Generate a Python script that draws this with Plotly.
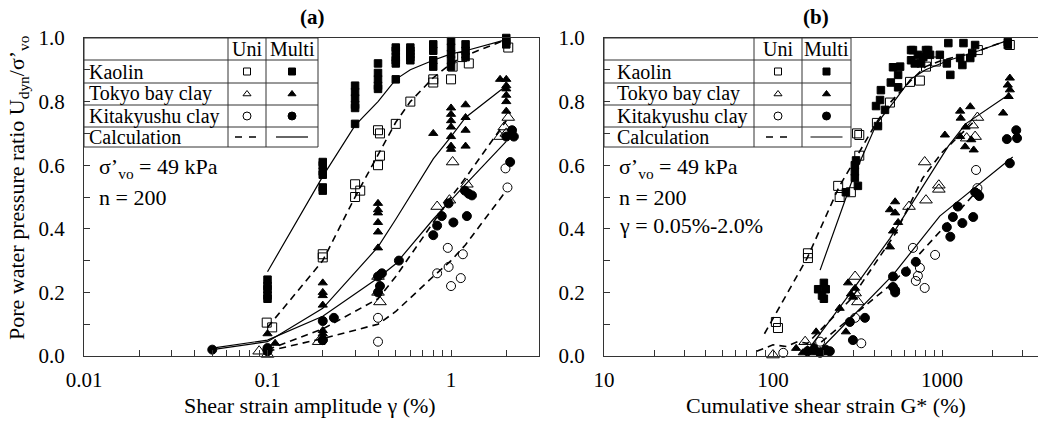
import math
import plotly.graph_objects as go

W, H = 1038, 421
FONT = "'Liberation Serif', 'Times New Roman', serif"
INK = "black"
AXIS = "#333333"

# ---------------- (a) pore pressure ratio vs shear strain amplitude ----------------
ka_multi_a_x = [0.1, 0.1, 0.1, 0.1, 0.1, 0.2, 0.2, 0.2, 0.2, 0.2, 0.2, 0.3, 0.3, 0.3, 0.3, 0.3, 0.3,
                0.4, 0.4, 0.4, 0.4, 0.4, 0.5, 0.5, 0.5, 0.5, 0.5, 0.5, 0.6, 0.6, 0.6, 0.6, 0.6,
                0.8, 0.8, 0.8, 0.8, 1.0, 1.0, 1.0, 1.0, 1.0, 1.2, 1.2, 1.2, 2.0, 2.0, 2.0]
ka_multi_a_y = [0.24, 0.22, 0.21, 0.19, 0.18, 0.61, 0.60, 0.58, 0.57, 0.53, 0.52, 0.85, 0.83, 0.81, 0.79, 0.78, 0.73,
                0.92, 0.89, 0.87, 0.85, 0.84, 0.97, 0.96, 0.94, 0.93, 0.92, 0.87, 0.97, 0.96, 0.95, 0.94, 0.93,
                0.98, 0.96, 0.93, 0.91, 0.99, 0.97, 0.95, 0.93, 0.91, 0.98, 0.96, 0.94, 1.0, 0.99, 0.98]
ka_uni_a_x = [0.099, 0.106, 0.2, 0.2, 0.3, 0.3, 0.32, 0.4, 0.41, 0.41, 0.4, 0.5, 0.6, 0.8, 0.8,
              1.0, 1.02, 1.15, 1.25, 2.05]
ka_uni_a_y = [0.105, 0.09, 0.32, 0.31, 0.54, 0.50, 0.52, 0.71, 0.70, 0.63, 0.60, 0.73, 0.80, 0.87, 0.86,
              0.87, 0.91, 0.94, 0.92, 0.97]

tk_multi_a_x = [0.1, 0.11, 0.2, 0.2, 0.2, 0.2, 0.2, 0.2, 0.4, 0.4, 0.4, 0.4, 0.4, 0.4, 0.8,
                1.0, 1.0, 1.0, 1.0, 1.0, 1.0, 1.0, 1.2, 1.2, 1.2, 1.2,
                2.0, 2.0, 2.0, 2.0, 2.0, 2.0, 1.85]
tk_multi_a_y = [0.07, 0.04, 0.23, 0.20, 0.19, 0.16, 0.08, 0.07, 0.48, 0.46, 0.45, 0.42, 0.39, 0.34, 0.70,
                0.78, 0.76, 0.74, 0.72, 0.69, 0.66, 0.65, 0.79, 0.75, 0.71, 0.66,
                0.87, 0.85, 0.84, 0.82, 0.80, 0.77, 0.87]
tk_uni_a_x = [0.09, 0.1, 0.19, 0.4, 0.4, 0.41, 0.84, 0.98, 1.02, 1.22, 1.85, 1.95, 2.05, 2.0]
tk_uni_a_y = [0.015, 0.005, 0.045, 0.25, 0.20, 0.17, 0.47, 0.49, 0.61, 0.54, 0.69, 0.72, 0.75, 0.70]

kt_multi_a_x = [0.05, 0.1, 0.1, 0.2, 0.23, 0.2, 0.4, 0.42, 0.41, 0.4, 0.52,
                0.8, 0.84, 0.89, 0.97, 1.03, 1.22, 1.19, 1.25, 1.3, 2.15, 2.0, 2.2, 2.1]
kt_multi_a_y = [0.02, 0.015, 0.025, 0.11, 0.12, 0.05, 0.25, 0.26, 0.22, 0.20, 0.30,
                0.38, 0.41, 0.44, 0.48, 0.42, 0.44, 0.52, 0.51, 0.505, 0.71, 0.69, 0.69, 0.61]
kt_uni_a_x = [0.1, 0.2, 0.4, 0.4, 0.84, 0.96, 0.97, 1.0, 1.16, 1.13, 1.98, 2.03]
kt_uni_a_y = [0.02, 0.05, 0.12, 0.045, 0.26, 0.34, 0.28, 0.22, 0.32, 0.245, 0.59, 0.53]

# calculated curves, panel (a)
calc_ka_multi_a_x = [0.1, 0.2, 0.3, 0.4, 0.5, 0.6, 0.8, 1.0, 1.2, 2.0]
calc_ka_multi_a_y = [0.265, 0.565, 0.725, 0.80, 0.87, 0.90, 0.93, 0.95, 0.96, 0.995]
calc_ka_uni_a_x = [0.1, 0.2, 0.3, 0.4, 0.5, 0.6, 0.8, 1.0, 1.2, 2.0]
calc_ka_uni_a_y = [0.09, 0.30, 0.50, 0.63, 0.735, 0.80, 0.875, 0.92, 0.945, 0.995]
calc_tk_multi_a_x = [0.05, 0.1, 0.2, 0.4, 0.5, 0.8, 1.0, 1.2, 2.0]
calc_tk_multi_a_y = [0.02, 0.045, 0.15, 0.343, 0.43, 0.62, 0.69, 0.75, 0.85]
calc_tk_uni_a_x = [0.1, 0.2, 0.4, 0.5, 0.8, 1.0, 1.2, 2.0]
calc_tk_uni_a_y = [0.02, 0.085, 0.18, 0.25, 0.42, 0.50, 0.56, 0.74]
calc_kt_multi_a_x = [0.05, 0.1, 0.2, 0.4, 0.5, 0.8, 1.0, 1.2, 2.0]
calc_kt_multi_a_y = [0.025, 0.05, 0.125, 0.245, 0.29, 0.43, 0.49, 0.54, 0.675]
calc_kt_uni_a_x = [0.1, 0.2, 0.4, 0.5, 0.8, 1.0, 1.2, 2.0]
calc_kt_uni_a_y = [0.015, 0.055, 0.10, 0.14, 0.25, 0.30, 0.35, 0.52]

# ---------------- (b) pore pressure ratio vs cumulative shear strain ----------------
ka_multi_b_x = [185, 200, 205, 195, 200, 270, 318, 305, 305, 305, 310,
                418, 407, 430, 435, 460, 498, 550, 565, 550, 656, 656, 720, 752, 804, 850,
                513, 673, 690, 775, 828, 971, 1090, 1068, 1120, 1280, 1340, 1320, 1510, 1570, 1470, 2450, 2450]
ka_multi_b_y = [0.21, 0.23, 0.21, 0.19, 0.18, 0.515, 0.535, 0.56, 0.58, 0.60, 0.615,
                0.723, 0.786, 0.805, 0.836, 0.774, 0.86, 0.884, 0.91, 0.845, 0.93, 0.962, 0.947, 0.92, 0.962, 0.947,
                0.908, 0.962, 0.92, 0.94, 0.962, 0.947, 0.984, 0.92, 0.884, 0.937, 0.984, 0.915, 0.953, 0.978, 0.937, 0.987, 0.978]
ka_uni_b_x = [104, 107, 161, 161, 243, 248, 289, 314, 324, 324, 412, 492, 647, 740, 804, 920, 1630, 2520]
ka_uni_b_y = [0.107, 0.088, 0.323, 0.308, 0.535, 0.50, 0.515, 0.70, 0.695, 0.63, 0.733, 0.797, 0.862, 0.866,
              0.91, 0.926, 0.962, 0.978]

tk_multi_b_x = [137, 180, 150, 160, 170, 175, 190, 200, 205, 270, 248, 278, 289, 306, 298,
                492, 492, 528, 513, 550, 528, 1040, 1280, 1470, 1290, 1380, 1490, 1540, 1280, 1370,
                2520, 2450, 2520, 2480, 2300]
tk_multi_b_y = [0.024, 0.076, 0.01, 0.02, 0.01, 0.03, 0.015, 0.02, 0.01, 0.076, 0.15, 0.23, 0.195, 0.213, 0.185,
                0.343, 0.46, 0.485, 0.393, 0.42, 0.45, 0.695, 0.77, 0.784, 0.748, 0.72, 0.68, 0.648, 0.69, 0.658,
                0.874, 0.852, 0.837, 0.816, 0.764]
tk_uni_b_x = [100, 155, 306, 306, 318, 638, 804, 790, 958, 958, 1400, 1570, 1510, 1620]
tk_uni_b_y = [0.003, 0.045, 0.25, 0.198, 0.17, 0.47, 0.49, 0.61, 0.537, 0.524, 0.685, 0.69, 0.726, 0.75]

kt_multi_b_x = [160, 175, 190, 205, 217, 285, 350, 297, 513, 528, 513, 528, 612, 700,
                1120, 1068, 1160, 1240, 1320, 1530, 1570, 1660, 1620, 2520, 2420, 2750, 2780]
kt_multi_b_y = [0.015, 0.02, 0.01, 0.02, 0.015, 0.107, 0.12, 0.05, 0.25, 0.207, 0.217, 0.20, 0.265, 0.296,
                0.375, 0.405, 0.437, 0.47, 0.418, 0.437, 0.515, 0.503, 0.51, 0.606, 0.682, 0.71, 0.685]
kt_uni_b_x = [115, 190, 306, 333, 673, 740, 720, 700, 790, 910, 1590, 1620]
kt_uni_b_y = [0.01, 0.045, 0.12, 0.04, 0.34, 0.277, 0.252, 0.236, 0.214, 0.318, 0.585, 0.528]

# calculated curves, panel (b)
calc_ka_uni_b_x = [89, 160, 245, 320, 410, 500, 650, 800, 1000, 1650, 2520]
calc_ka_uni_b_y = [0.07, 0.31, 0.53, 0.635, 0.735, 0.80, 0.865, 0.91, 0.93, 0.96, 0.995]
calc_ka_multi_b_x = [190, 300, 410, 520, 650, 800, 1100, 1650, 2520]
calc_ka_multi_b_y = [0.27, 0.565, 0.73, 0.80, 0.87, 0.90, 0.93, 0.96, 0.995]
calc_tk_uni_b_x = [80, 100, 120, 140, 160, 290, 530, 770, 1000, 1600]
calc_tk_uni_b_y = [0.015, 0.035, 0.03, 0.045, 0.04, 0.18, 0.385, 0.56, 0.64, 0.745]
calc_tk_multi_b_x = [167, 289, 492, 1090, 1380, 2450]
calc_tk_multi_b_y = [0.03, 0.2, 0.37, 0.66, 0.73, 0.82]
calc_kt_uni_b_x = [170, 513, 1620]
calc_kt_uni_b_y = [0.02, 0.23, 0.52]
calc_kt_multi_b_x = [198, 513, 970, 2620]
calc_kt_multi_b_y = [0.03, 0.255, 0.44, 0.626]

# table rows and column headings
table_rows = ["Kaolin", "Tokyo bay clay", "Kitakyushu clay", "Calculation"]
table_cols = ["Uni", "Multi"]
x_ticks_a = [0.01, 0.1, 1]
x_ticks_b = [10, 100, 1000]
y_ticks = [0.0, 0.2, 0.4, 0.6, 0.8, 1.0]

# ---------------- geometry (pixels) ----------------
TOP, BOT = 38, 356
A_L, A_R = 84, 538.6
B_L, B_R = 604, W
def fx(p):
    return p / W
def fy(p):
    return 1 - p / H

fig = go.Figure()

def markers(x, y, symbol, size, xa, ya, lw=1.0):
    fig.add_trace(go.Scatter(
        x=x, y=y, mode="markers", xaxis=xa, yaxis=ya, cliponaxis=False,
        marker=dict(symbol=symbol, size=size, color=INK, line=dict(color=INK, width=lw)),
        showlegend=False, hoverinfo="skip"))

def curve(x, y, dashed, xa, ya):
    fig.add_trace(go.Scatter(
        x=x, y=y, mode="lines", xaxis=xa, yaxis=ya, cliponaxis=False,
        line=dict(color=INK, width=1.6 if dashed else 1.2, dash="7px,5px" if dashed else "solid"),
        showlegend=False, hoverinfo="skip"))

for xa, ya, series, calcs in [
    ("x", "y",
     [(ka_uni_a_x, ka_uni_a_y, "square-open", 9), (ka_multi_a_x, ka_multi_a_y, "square", 7.5),
      (tk_uni_a_x, tk_uni_a_y, "triangle-up-open", 11), (tk_multi_a_x, tk_multi_a_y, "triangle-up", 8),
      (kt_uni_a_x, kt_uni_a_y, "circle-open", 9), (kt_multi_a_x, kt_multi_a_y, "circle", 9)],
     [(calc_ka_uni_a_x, calc_ka_uni_a_y, True), (calc_ka_multi_a_x, calc_ka_multi_a_y, False),
      (calc_tk_uni_a_x, calc_tk_uni_a_y, True), (calc_tk_multi_a_x, calc_tk_multi_a_y, False),
      (calc_kt_uni_a_x, calc_kt_uni_a_y, True), (calc_kt_multi_a_x, calc_kt_multi_a_y, False)]),
    ("x2", "y2",
     [(ka_uni_b_x, ka_uni_b_y, "square-open", 9), (ka_multi_b_x, ka_multi_b_y, "square", 7.5),
      (tk_uni_b_x, tk_uni_b_y, "triangle-up-open", 11), (tk_multi_b_x, tk_multi_b_y, "triangle-up", 8),
      (kt_uni_b_x, kt_uni_b_y, "circle-open", 9), (kt_multi_b_x, kt_multi_b_y, "circle", 9)],
     [(calc_ka_uni_b_x, calc_ka_uni_b_y, True), (calc_ka_multi_b_x, calc_ka_multi_b_y, False),
      (calc_tk_uni_b_x, calc_tk_uni_b_y, True), (calc_tk_multi_b_x, calc_tk_multi_b_y, False),
      (calc_kt_uni_b_x, calc_kt_uni_b_y, True), (calc_kt_multi_b_x, calc_kt_multi_b_y, False)]),
]:
    for cx, cy, dashed in calcs:
        curve(cx, cy, dashed, xa, ya)
    for sx, sy, sym, size in series:
        markers(sx, sy, sym, size, xa, ya)

# ---------------- symbol tables (cell grid in paper space, symbols on a pixel overlay axis) ----------------
shapes = []
annotations = []
row_lines = [38, 60, 83, 105, 127, 147]
table_specs = [(84, 228, 266, 318, 87), (604, 754, 802, 851, 615)]
legend_syms = [("square-open", "square", 7), ("triangle-up-open", "triangle-up", 7), ("circle-open", "circle", 8)]
for left, c1, c2, right, text_x in table_specs:
    shapes.append(dict(type="rect", xref="paper", yref="paper", x0=fx(left), x1=fx(right),
                       y0=fy(row_lines[-1]), y1=fy(row_lines[0]), line=dict(color=AXIS, width=1),
                       fillcolor="rgba(0,0,0,0)", layer="above"))
    for r in row_lines[1:-1]:
        shapes.append(dict(type="line", xref="paper", yref="paper", x0=fx(left), x1=fx(right),
                           y0=fy(r), y1=fy(r), line=dict(color=AXIS, width=1), layer="above"))
    for c in (c1, c2):
        shapes.append(dict(type="line", xref="paper", yref="paper", x0=fx(c), x1=fx(c),
                           y0=fy(row_lines[0]), y1=fy(row_lines[-1]), line=dict(color=AXIS, width=1), layer="above"))
    uni_cx, multi_cx = (c1 + c2) / 2, (c2 + right) / 2
    for label, cx in zip(table_cols, (uni_cx, multi_cx)):
        annotations.append(dict(x=fx(cx), y=fy((row_lines[0] + row_lines[1]) / 2), xref="paper", yref="paper",
                                text=label, showarrow=False, xanchor="center", yanchor="middle",
                                font=dict(family=FONT, size=20, color=INK)))
    for i, label in enumerate(table_rows):
        cy = (row_lines[i + 1] + row_lines[i + 2]) / 2
        annotations.append(dict(x=fx(text_x), y=fy(cy), xref="paper", yref="paper", text=label,
                                showarrow=False, xanchor="left", yanchor="middle",
                                font=dict(family=FONT, size=20, color=INK)))
        if i < 3:
            open_sym, fill_sym, sz = legend_syms[i]
            fig.add_trace(go.Scatter(x=[uni_cx, multi_cx], y=[cy, cy], mode="markers", xaxis="x3", yaxis="y3",
                                     marker=dict(symbol=[open_sym, fill_sym], size=sz, color=INK,
                                                 line=dict(color=INK, width=1)),
                                     showlegend=False, hoverinfo="skip"))
        else:
            fig.add_trace(go.Scatter(x=[uni_cx - 12, uni_cx + 12], y=[cy, cy], mode="lines", xaxis="x3", yaxis="y3",
                                     line=dict(color=INK, width=1.6, dash="7px,7px"),
                                     showlegend=False, hoverinfo="skip"))
            fig.add_trace(go.Scatter(x=[multi_cx - 16, multi_cx + 16], y=[cy, cy], mode="lines", xaxis="x3",
                                     yaxis="y3", line=dict(color=INK, width=1.2),
                                     showlegend=False, hoverinfo="skip"))

# test conditions
notes = [
    (97, 168, "σ’<sub>vo</sub> = 49 kPa"),
    (97, 197, "n = 200"),
    (617, 168, "σ’<sub>vo</sub> = 49 kPa"),
    (617, 197, "n = 200"),
    (617, 225, "γ = 0.05%-2.0%"),
]
for nx, ny, t in notes:
    annotations.append(dict(x=fx(nx), y=fy(ny), xref="paper", yref="paper", text=t, showarrow=False,
                            xanchor="left", yanchor="middle", font=dict(family=FONT, size=22, color=INK)))

# panel letters and axis titles
annotations += [
    dict(x=fx(312), y=fy(17), xref="paper", yref="paper", text="<b>(a)</b>", showarrow=False,
         xanchor="center", yanchor="middle", font=dict(family=FONT, size=21, color=INK)),
    dict(x=fx(816), y=fy(17), xref="paper", yref="paper", text="<b>(b)</b>", showarrow=False,
         xanchor="center", yanchor="middle", font=dict(family=FONT, size=21, color=INK)),
    dict(x=fx(310), y=fy(405), xref="paper", yref="paper", text="Shear strain amplitude γ (%)",
         showarrow=False, xanchor="center", yanchor="middle", font=dict(family=FONT, size=22, color=INK)),
    dict(x=fx(826), y=fy(405), xref="paper", yref="paper", text="Cumulative shear strain G* (%)",
         showarrow=False, xanchor="center", yanchor="middle", font=dict(family=FONT, size=22, color=INK)),
    dict(x=fx(18), y=fy(188), xref="paper", yref="paper",
         text="Pore water pressure ratio U<sub>dyn</sub>/σ’<sub>vo</sub>", textangle=-90,
         showarrow=False, xanchor="center", yanchor="middle", font=dict(family=FONT, size=22, color=INK)),
]

def minor_logs(lo, hi):
    vals = []
    for e in range(lo, hi + 1):
        for m in range(2, 10):
            vals.append(m * 10 ** e)
    return vals

common_x = dict(type="log", showline=True, linecolor=AXIS, linewidth=1, mirror=True, ticks="inside",
                ticklen=6, tickcolor=AXIS, showgrid=False, zeroline=False, automargin=False,
                tickfont=dict(family=FONT, size=21, color=INK), ticklabelstandoff=5)
common_y = dict(range=[0, 1], showline=True, linecolor=AXIS, linewidth=1, ticks="inside", ticklen=6,
                tickcolor=AXIS, showgrid=False, zeroline=False, automargin=False,
                tickvals=y_ticks, ticktext=[f"{v:.1f}" for v in y_ticks],
                minor=dict(dtick=0.1, ticks="inside", ticklen=6, tickcolor=AXIS),
                tickfont=dict(family=FONT, size=21, color=INK), ticklabelstandoff=14,
                domain=[fy(BOT), fy(TOP)])

fig.update_layout(
    width=W, height=H, margin=dict(l=0, r=0, t=0, b=0),
    paper_bgcolor="white", plot_bgcolor="rgba(0,0,0,0)", showlegend=False,
    font=dict(family=FONT, color=INK),
    xaxis=dict(common_x, domain=[fx(A_L), fx(A_R)], range=[-2, math.log10(3)], anchor="y",
               tickvals=x_ticks_a, ticktext=["0.01", "0.1", "1"],
               minor=dict(tickvals=minor_logs(-2, 0), ticks="inside", ticklen=6, tickcolor=AXIS)),
    yaxis=dict(common_y, anchor="x", mirror=True),
    xaxis2=dict(common_x, domain=[fx(B_L), fx(B_R)], range=[1, 1 + (B_R - B_L) / 169], anchor="y2",
                tickvals=x_ticks_b, ticktext=["10", "100", "1000"],
                minor=dict(tickvals=minor_logs(1, 3), ticks="inside", ticklen=6, tickcolor=AXIS)),
    yaxis2=dict(common_y, anchor="x2", mirror=False),
    xaxis3=dict(domain=[0, 1], range=[0, W], visible=False, fixedrange=True),
    yaxis3=dict(domain=[0, 1], range=[H, 0], visible=False, fixedrange=True, anchor="x3"),
    shapes=shapes, annotations=annotations,
)

fig.write_html("out.html")
